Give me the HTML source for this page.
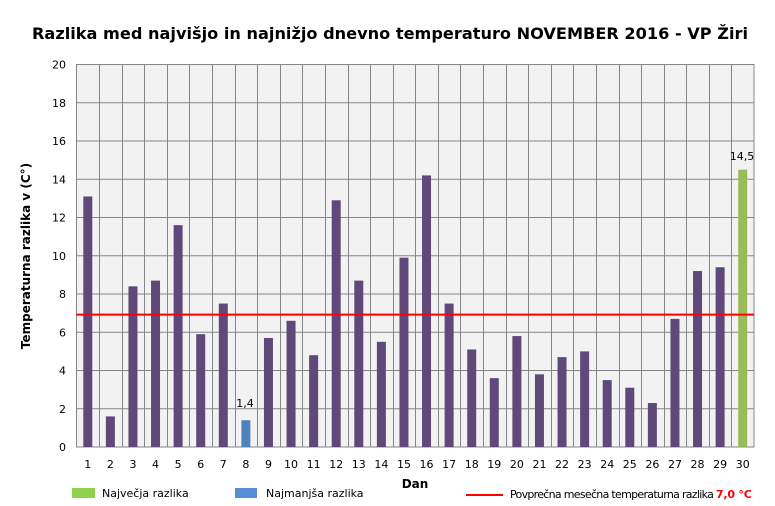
<!DOCTYPE html>
<html><head><meta charset="utf-8"><style>body{margin:0;background:#fff}svg{display:block;font-family:"DejaVu Sans","Liberation Sans",sans-serif}</style></head><body>
<svg width="775" height="506" xmlns="http://www.w3.org/2000/svg">
<text x="32" y="39" textLength="716" lengthAdjust="spacingAndGlyphs" font-size="16" font-weight="bold" fill="#000">Razlika med najvišjo  in najnižjo  dnevno  temperaturo  NOVEMBER  2016 - VP Žiri</text>
<rect x="76.5" y="64.5" width="677.5" height="382.5" fill="#f2f2f2" stroke="#868686"/>
<g id="g" stroke="#868686" stroke-width="1"></g>
<g id="yl" font-size="11" fill="#000" text-anchor="end"></g>
<g id="b"></g>
<g id="xl" font-size="11" fill="#000" text-anchor="middle"></g>
<line x1="76.5" y1="314.6" x2="754" y2="314.6" stroke="#ff0000" stroke-width="2"/>
<text x="245" y="407" text-anchor="middle" font-size="11">1,4</text>
<text x="742" y="160" text-anchor="middle" font-size="11">14,5</text>
<text transform="translate(30,256) rotate(-90)" text-anchor="middle" font-size="12" font-weight="bold">Temperaturna razlika v (C°)</text>
<text x="415" y="488" text-anchor="middle" font-size="12" font-weight="bold">Dan</text>
<rect x="72" y="488" width="23" height="10" fill="#92d050"/>
<text x="102" y="497" font-size="11">Največja razlika</text>
<rect x="235" y="488" width="22" height="10" fill="#558ed5"/>
<text x="266" y="497" font-size="11">Najmanjša razlika</text>
<line x1="466" y1="495" x2="503" y2="495" stroke="#ff0000" stroke-width="2"/>
<text x="510" y="498" font-size="11" letter-spacing="-0.7">Povprečna mesečna temperaturna razlika <tspan fill="#ff0000" font-weight="bold" letter-spacing="-0.2">7,0 °C</tspan></text>
<script>
var v=[13.1,1.6,8.4,8.7,11.6,5.9,7.5,1.4,5.7,6.6,4.8,12.9,8.7,5.5,9.9,14.2,7.5,5.1,3.6,5.8,3.8,4.7,5.0,3.5,3.1,2.3,6.7,9.2,9.4,14.5];
var L=76.5,R=754,B=447,T=64.5,w=(R-L)/30,s=(B-T)/20,ns="http://www.w3.org/2000/svg";
function el(p,t,a,txt){var e=document.createElementNS(ns,t);for(var k in a)e.setAttribute(k,a[k]);if(txt!=null)e.textContent=txt;document.getElementById(p).appendChild(e);}
for(var i=1;i<30;i++){var x=Math.round(L+i*w)+0.5;el("g","line",{x1:x,y1:T,x2:x,y2:B});}
for(var j=0;j<=10;j++){var y=B-j*2*s;if(j>0&&j<10)el("g","line",{x1:L,y1:y,x2:R,y2:y});el("yl","text",{x:66,y:y+4},String(j*2));}
for(var i=0;i<30;i++){var c=L+(i+0.5)*w,h=v[i]*s;var col=i==7?"#4f81bd":(i==29?"#9bbb59":"#5f497a");el("b","rect",{x:c-4.5,y:B-h,width:9,height:h,fill:col});el("xl","text",{x:c,y:468},String(i+1));}
</script>
</svg>
</body></html>
